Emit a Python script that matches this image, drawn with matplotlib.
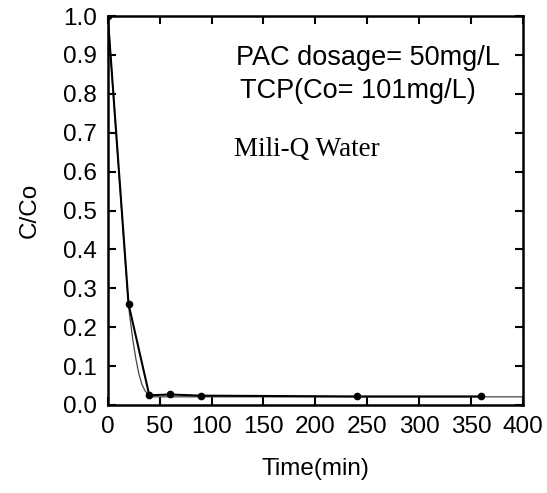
import matplotlib.pyplot as plt

# measured TCP concentration ratio over time
time_min = [0, 20, 40, 60, 90, 240, 360]
c_ratio = [1.0, 0.26, 0.025, 0.027, 0.024, 0.022, 0.022]

# fitted kinetic curve
fit_time = [0, 5, 10, 15, 20, 24, 27, 30, 33, 36, 40, 44, 48, 55, 70, 100, 200, 400]
fit_ratio = [1.0, 0.81, 0.625, 0.44, 0.255, 0.17, 0.12, 0.08, 0.052, 0.036, 0.025, 0.021, 0.021, 0.021, 0.021, 0.021, 0.021, 0.021]

plt.rcParams['font.family'] = ['Liberation Sans', 'DejaVu Sans']

fig = plt.figure(figsize=(5.47, 4.93), dpi=100)
ax = fig.add_axes([0.197, 0.1785, 0.759, 0.789])

ax.plot(fit_time, fit_ratio, color='#444444', lw=0.9)
ax.plot(time_min, c_ratio, color='black', lw=1.5, marker='o', ms=4.5)

ax.set_xlim(0, 400)
ax.set_ylim(0, 1.0)
ax.set_xticks(range(0, 401, 50))
ax.set_yticks([i / 10 for i in range(11)])
ax.set_yticklabels(['%.1f' % (i / 10) for i in range(11)])

ax.tick_params(direction='in', top=True, right=True, length=6, width=1.5,
               labelsize=17.5, pad=8)
for s in ax.spines.values():
    s.set_linewidth(1.8)

ax.set_xlabel('Time(min)', fontsize=17.5, labelpad=14)
ax.set_ylabel('C/Co', fontsize=17.5, labelpad=16)

ax.text(0.308, 0.873, 'PAC dosage= 50mg/L', transform=ax.transAxes, fontsize=19.5)
ax.text(0.318, 0.79, 'TCP(Co= 101mg/L)', transform=ax.transAxes, fontsize=19.5)
ax.text(0.305, 0.64, 'Mili-Q Water', transform=ax.transAxes, fontsize=19.5,
        family=['Liberation Serif', 'DejaVu Serif'])

fig.savefig('out.png', dpi=100)
